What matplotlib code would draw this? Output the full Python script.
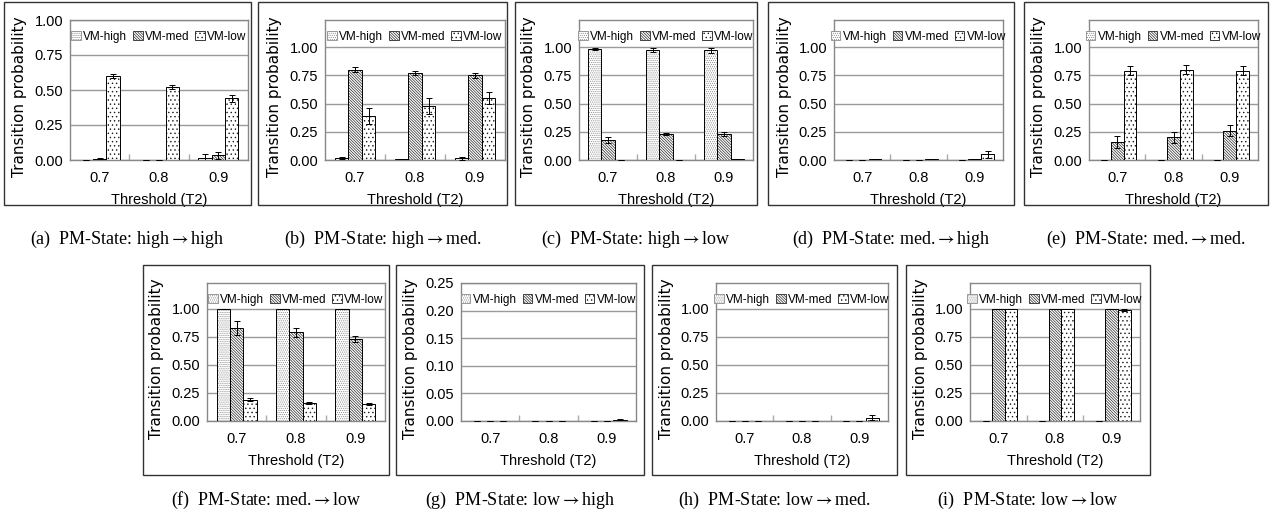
import matplotlib
matplotlib.use("Agg")
import matplotlib.pyplot as plt
from matplotlib.patches import Rectangle, Patch
import numpy as np

W, H = 1274, 515

thresholds = ["0.7", "0.8", "0.9"]
series = ["VM-high", "VM-med", "VM-low"]

# mean values per panel: [VM-high, VM-med, VM-low], each over thresholds 0.7/0.8/0.9
a_mean = [[0.0, 0.0, 0.015], [0.01, 0.003, 0.035], [0.60, 0.52, 0.44]]
a_err = [[0.0, 0.0, 0.03], [0.005, 0.0, 0.025], [0.015, 0.015, 0.025]]
b_mean = [[0.015, 0.01, 0.015], [0.80, 0.77, 0.75], [0.39, 0.48, 0.55]]
b_err = [[0.01, 0.0, 0.015], [0.02, 0.015, 0.025], [0.07, 0.07, 0.05]]
c_mean = [[0.98, 0.975, 0.97], [0.18, 0.23, 0.23], [0.0, 0.0, 0.005]]
c_err = [[0.01, 0.015, 0.02], [0.025, 0.01, 0.015], [0.0, 0.0, 0.0]]
d_mean = [[0.0, 0.0, 0.0], [0.0, 0.0, 0.005], [0.005, 0.005, 0.05]]
d_err = [[0.0, 0.0, 0.0], [0.0, 0.0, 0.0], [0.0, 0.0, 0.03]]
e_mean = [[0.0, 0.0, 0.0], [0.16, 0.20, 0.26], [0.79, 0.80, 0.79]]
e_err = [[0.0, 0.0, 0.0], [0.05, 0.05, 0.05], [0.04, 0.04, 0.04]]
f_mean = [[1.0, 1.0, 1.0], [0.83, 0.79, 0.73], [0.19, 0.16, 0.15]]
f_err = [[0.0, 0.0, 0.0], [0.06, 0.04, 0.03], [0.015, 0.01, 0.01]]
g_mean = [[0.0, 0.0, 0.0], [0.0, 0.0, 0.0], [0.0, 0.0, 0.002]]
g_err = [[0.0, 0.0, 0.0], [0.0, 0.0, 0.0], [0.0, 0.0, 0.001]]
h_mean = [[0.0, 0.0, 0.0], [0.0, 0.0, 0.0], [0.003, 0.003, 0.03]]
h_err = [[0.0, 0.0, 0.0], [0.0, 0.0, 0.0], [0.0, 0.0, 0.02]]
i_mean = [[0.0, 0.0, 0.0], [1.0, 1.0, 1.0], [1.0, 1.0, 0.99]]
i_err = [[0.0, 0.0, 0.0], [0.0, 0.0, 0.0], [0.0, 0.0, 0.01]]

ARROW = r"$\rightarrow$"
captions = [
    "(a)  PM-State: high" + ARROW + "high", "(b)  PM-State: high" + ARROW + "med.",
    "(c)  PM-State: high" + ARROW + "low", "(d)  PM-State: med." + ARROW + "high",
    "(e)  PM-State: med." + ARROW + "med.", "(f)  PM-State: med." + ARROW + "low",
    "(g)  PM-State: low" + ARROW + "high", "(h)  PM-State: low" + ARROW + "med.",
    "(i)  PM-State: low" + ARROW + "low",
]

hatches = ["........", "\\\\\\\\\\\\\\\\\\\\\\\\", "...."]
hatch_cols = ["#8a8a8a", "#2a2a2a", "#1a1a1a"]

SANS = ["Liberation Sans", "DejaVu Sans"]
SERIF = ["Liberation Serif", "DejaVu Serif"]

plt.rcParams["hatch.linewidth"] = 0.5
plt.rcParams["mathtext.fontset"] = "stix"


def rect(l, t, r, b):
    return [l / W, 1 - b / H, (r - l) / W, (b - t) / H]


def draw_panel(fig, plot_box, border_box, caption, cap_y, means, errs, ymax, ystep):
    bl, bt, br, bb = border_box
    fig.patches.append(Rectangle((bl / W, 1 - bb / H), (br - bl) / W, (bb - bt) / H,
                                 transform=fig.transFigure, fill=False,
                                 edgecolor="#333333", linewidth=1.0))
    fig.text((bl + br) / 2 / W, 1 - cap_y / H, caption, ha="center", va="center",
             fontsize=13, family=SERIF)

    ax = fig.add_axes(rect(*plot_box))
    x = np.arange(len(thresholds))
    width = 0.225
    handles = []
    for k in range(3):
        pos = x + (k - 1) * width
        ax.bar(pos, means[k], width, color="white", edgecolor=hatch_cols[k],
               hatch=hatches[k], linewidth=0, zorder=2)
        ax.bar(pos, means[k], width, fill=False, edgecolor="black",
               linewidth=0.7, zorder=3)
        ax.errorbar(pos, means[k], yerr=errs[k], fmt="none", ecolor="black",
                    elinewidth=0.7, capsize=2, capthick=0.7, zorder=4)
        handles.append(Patch(facecolor="white", edgecolor=hatch_cols[k],
                             hatch=hatches[k], linewidth=0.6))

    ax.set_xlim(-0.5, 2.5)
    ax.set_ylim(0, ymax)
    ax.set_yticks(np.round(np.arange(0, min(ymax, 1.0) + 1e-9, ystep), 2))
    ax.yaxis.set_major_formatter(matplotlib.ticker.FormatStrFormatter("%.2f"))
    ax.grid(axis="y", color="#9a9a9a", linewidth=1.0, zorder=0)
    ax.set_axisbelow(True)
    for s in ax.spines.values():
        s.set_color("#888888")
        s.set_linewidth(1.0)

    ax.set_xticks([0.5, 1.5])
    ax.set_xticklabels([])
    ax.set_xticks(x, minor=True)
    ax.set_xticklabels(thresholds, minor=True, fontsize=10.5, family=SANS)
    ax.tick_params(axis="x", which="major", direction="in", length=4,
                   color="#aaaaaa", width=1)
    ax.tick_params(axis="x", which="minor", length=0, pad=8)
    ax.tick_params(axis="y", length=0, pad=5, labelsize=10.5)
    for lab in ax.get_yticklabels():
        lab.set_family(SANS)

    pw = plot_box[2] - plot_box[0]
    ph = plot_box[3] - plot_box[1]
    ax.set_xlabel("Threshold (T2)", fontsize=10.5, family=SANS)
    ax.xaxis.set_label_coords(0.5, -40 / ph)
    ax.xaxis.label.set_va("center")
    ax.set_ylabel("Transition probability", fontsize=11, family="DejaVu Sans")
    ax.yaxis.set_label_coords(-50 / pw, 0.45)
    ax.yaxis.label.set_va("center")

    ax.legend(handles, series, loc="upper center", ncol=3, frameon=False,
              bbox_to_anchor=(0.5, 1.0 - 4 / ph),
              handlelength=0.8, handleheight=0.8, handletextpad=0.2,
              columnspacing=0.5, borderaxespad=0.2,
              prop={"family": SANS, "size": 8.5})
    return ax


def main():
    fig = plt.figure(figsize=(W / 100, H / 100), dpi=100)

    top_borders = [(4, 2, 251, 205), (258, 2, 507, 205), (515, 2, 757, 205),
                   (768, 2, 1014, 205), (1024, 2, 1268, 205)]
    top_plots = [(70, 20, 248, 160), (325, 20, 505, 160), (579, 20, 753, 160),
                 (834, 20, 1003, 160), (1089, 20, 1258, 160)]
    bot_borders = [(143, 265, 389, 475), (396, 265, 644, 475),
                   (652, 265, 897, 475), (906, 265, 1150, 475)]
    bot_plots = [(207, 283, 385, 421), (461, 283, 636, 421),
                 (716, 283, 888, 421), (970, 283, 1140, 421)]

    means = [a_mean, b_mean, c_mean, d_mean, e_mean, f_mean, g_mean, h_mean, i_mean]
    errs = [a_err, b_err, c_err, d_err, e_err, f_err, g_err, h_err, i_err]
    ymaxes = [1.0, 1.24, 1.24, 1.24, 1.24, 1.23, 0.25, 1.23, 1.23]
    ysteps = [0.25, 0.25, 0.25, 0.25, 0.25, 0.25, 0.05, 0.25, 0.25]

    borders = top_borders + bot_borders
    plots = top_plots + bot_plots
    for n in range(9):
        cap_y = 239 if n < 5 else 500
        draw_panel(fig, plots[n], borders[n], captions[n], cap_y, means[n],
                   errs[n], ymaxes[n], ysteps[n])

    fig.savefig("out.png", dpi=100)


if __name__ == "__main__":
    main()
